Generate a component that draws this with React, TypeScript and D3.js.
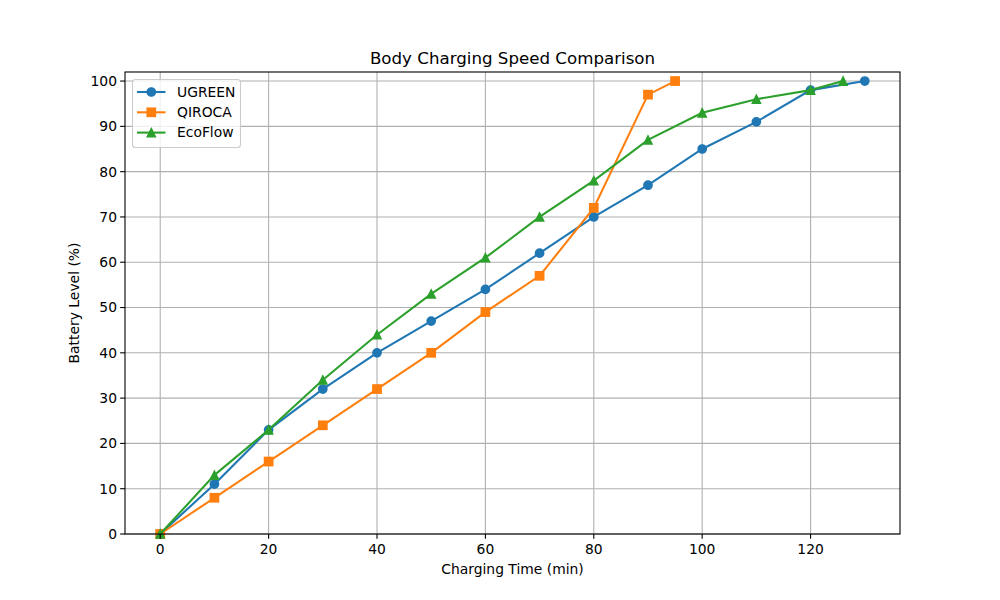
import * as d3 from "d3";

const WIDTH = 1000;
const HEIGHT = 600;
const MARGIN = { top: 72, right: 100, bottom: 66, left: 125 };

const UGREEN_T = [0, 10, 20, 30, 40, 50, 60, 70, 80, 90, 100, 110, 120, 130];
const UGREEN_V = [0, 11, 23, 32, 40, 47, 54, 62, 70, 77, 85, 91, 98, 100];
const QIROCA_T = [0, 10, 20, 30, 40, 50, 60, 70, 80, 90, 95];
const QIROCA_V = [0, 8, 16, 24, 32, 40, 49, 57, 72, 97, 100];
const ECOFLOW_T = [0, 10, 20, 30, 40, 50, 60, 70, 80, 90, 100, 110, 120, 126];
const ECOFLOW_V = [0, 13, 23, 34, 44, 53, 61, 70, 78, 87, 93, 96, 98, 100];

const X_TICKS = [0, 20, 40, 60, 80, 100, 120];
const Y_TICKS = [0, 10, 20, 30, 40, 50, 60, 70, 80, 90, 100];

const SERIES = [
  { name: "UGREEN", t: UGREEN_T, v: UGREEN_V, color: "#1f77b4", marker: "circle" },
  { name: "QIROCA", t: QIROCA_T, v: QIROCA_V, color: "#ff7f0e", marker: "square" },
  { name: "EcoFlow", t: ECOFLOW_T, v: ECOFLOW_V, color: "#2ca02c", marker: "triangle" },
];

const FONT = "DejaVu Sans, sans-serif";
const FS = 13.89;

// matplotlib markers: 6pt body plus a 1pt edge in the same colour
function Marker({ kind, x, y, color }: { kind: string; x: number; y: number; color: string }) {
  const edge = { stroke: color, strokeWidth: 1.39, strokeLinejoin: "miter" as const };
  const h = 4.17;
  if (kind === "circle") return <circle cx={x} cy={y} r={h} fill={color} {...edge} />;
  if (kind === "square")
    return <rect x={x - h} y={y - h} width={2 * h} height={2 * h} fill={color} {...edge} />;
  return (
    <path
      d={`M${x},${y - h} L${x + h},${y + h} L${x - h},${y + h} Z`}
      fill={color}
      {...edge}
    />
  );
}

export default function App() {
  const x = d3
    .scaleLinear()
    .domain([-6.5, 136.5])
    .range([MARGIN.left, WIDTH - MARGIN.right]);
  const y = d3
    .scaleLinear()
    .domain([0, 102])
    .range([HEIGHT - MARGIN.bottom, MARGIN.top]);

  const line = d3
    .line<[number, number]>()
    .x((d) => x(d[0]))
    .y((d) => y(d[1]));

  const left = MARGIN.left;
  const right = WIDTH - MARGIN.right;
  const top = MARGIN.top;
  const bottom = HEIGHT - MARGIN.bottom;

  return (
    <svg
      width={WIDTH}
      height={HEIGHT}
      style={{ position: "absolute", top: 0, left: 0, background: "#fff" }}
      fontFamily={FONT}
    >
      {/* grid */}
      {X_TICKS.map((t) => (
        <line key={`gx${t}`} x1={x(t)} x2={x(t)} y1={top} y2={bottom} stroke="#b0b0b0" strokeWidth={1.1} />
      ))}
      {Y_TICKS.map((t) => (
        <line key={`gy${t}`} x1={left} x2={right} y1={y(t)} y2={y(t)} stroke="#b0b0b0" strokeWidth={1.1} />
      ))}

      {/* series */}
      {SERIES.map((s) => {
        const pts = s.t.map((t, i) => [t, s.v[i]] as [number, number]);
        return (
          <g key={s.name}>
            <path d={line(pts) ?? ""} fill="none" stroke={s.color} strokeWidth={2.08} />
            {pts.map((p, i) => (
              <Marker key={i} kind={s.marker} x={x(p[0])} y={y(p[1])} color={s.color} />
            ))}
          </g>
        );
      })}

      {/* spines */}
      <rect x={left} y={top} width={right - left} height={bottom - top} fill="none" stroke="#000" strokeWidth={1.1} />

      {/* x ticks */}
      {X_TICKS.map((t) => (
        <g key={`xt${t}`}>
          <line x1={x(t)} x2={x(t)} y1={bottom} y2={bottom + 4.86} stroke="#000" strokeWidth={1.1} />
          <text x={x(t)} y={bottom + 20} textAnchor="middle" fontSize={FS}>
            {t}
          </text>
        </g>
      ))}
      {/* y ticks */}
      {Y_TICKS.map((t) => (
        <g key={`yt${t}`}>
          <line x1={left - 4.86} x2={left} y1={y(t)} y2={y(t)} stroke="#000" strokeWidth={1.1} />
          <text x={left - 8} y={y(t)} dy="0.35em" textAnchor="end" fontSize={FS}>
            {t}
          </text>
        </g>
      ))}

      {/* labels */}
      <text x={(left + right) / 2} y={64} textAnchor="middle" fontSize={16.67}>
        Body Charging Speed Comparison
      </text>
      <text x={(left + right) / 2} y={574} textAnchor="middle" fontSize={FS}>
        Charging Time (min)
      </text>
      <text
        transform={`translate(79,${(top + bottom) / 2}) rotate(-90)`}
        textAnchor="middle"
        fontSize={FS}
      >
        Battery Level (%)
      </text>

      {/* legend */}
      <g>
        <rect x={132.5} y={79.5} width={108} height={68} rx={3} fill="#fff" fillOpacity={0.8} stroke="#cccccc" strokeWidth={1.1} />
        {SERIES.map((s, i) => {
          const ly = 92 + i * 20.3;
          return (
            <g key={`lg${s.name}`}>
              <line x1={137} x2={165.5} y1={ly} y2={ly} stroke={s.color} strokeWidth={2.08} />
              <Marker kind={s.marker} x={151.3} y={ly} color={s.color} />
              <text x={177} y={ly} dy="0.35em" fontSize={FS}>
                {s.name}
              </text>
            </g>
          );
        })}
      </g>
    </svg>
  );
}
